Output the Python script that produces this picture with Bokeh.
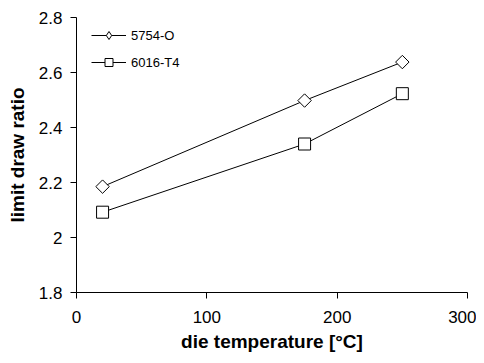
from bokeh.plotting import figure
from bokeh.models import FixedTicker, CustomJSTickFormatter, Range1d, Legend, LegendItem
from bokeh.embed import file_html
from bokeh.resources import INLINE

temps = [20, 175, 250]
ldr_5754 = [2.185, 2.498, 2.638]
ldr_6016 = [2.092, 2.340, 2.523]
x_ticks = [0, 100, 200, 300]
y_ticks = [1.8, 2.0, 2.2, 2.4, 2.6, 2.8]
series_names = ["5754-O", "6016-T4"]

FONT = "Liberation Sans"

p = figure(width=476, height=363, output_backend="svg", toolbar_location=None,
           x_range=Range1d(0, 300), y_range=Range1d(1.8, 2.8),
           min_border_left=76, min_border_top=17, min_border_right=9, min_border_bottom=71)
p.outline_line_color = None
p.xgrid.visible = False
p.ygrid.visible = False

p.line(temps, ldr_5754, line_color="black", line_width=1)
p.scatter(temps, ldr_5754, marker="square", angle=0.7853981634, size=9.5,
          fill_color="white", line_color="black", line_width=1)
p.line(temps, ldr_6016, line_color="black", line_width=1)
p.scatter(temps, ldr_6016, marker="square", size=12, fill_color="white", line_color="black", line_width=1)

# legend-only renderers (smaller markers as in the reference legend); NaN data draws nothing
nan = [float("nan")]
lg1 = p.line(nan, nan, line_color="black", line_width=1)
lg1m = p.scatter(nan, nan, marker="diamond", size=11, fill_color="white", line_color="black", line_width=1)
lg2 = p.line(nan, nan, line_color="black", line_width=1)
lg2m = p.scatter(nan, nan, marker="square", size=9, fill_color="white", line_color="black", line_width=1)

for ax in (p.xaxis[0], p.yaxis[0]):
    ax.major_label_text_font = FONT
    ax.major_label_text_font_size = "17px"
    ax.major_label_text_color = "black"
    ax.axis_label_text_font = FONT
    ax.axis_label_text_font_style = "bold"
    ax.axis_label_text_font_size = "19px"
    ax.axis_label_text_color = "black"
    ax.axis_line_color = "black"
    ax.major_tick_line_color = "black"
    ax.major_tick_out = 6
    ax.major_tick_in = 0
    ax.minor_tick_line_color = None

p.xaxis[0].major_label_standoff = 12
p.yaxis[0].major_label_standoff = 8
p.xaxis[0].ticker = FixedTicker(ticks=x_ticks)
p.yaxis[0].ticker = FixedTicker(ticks=y_ticks)
p.yaxis[0].formatter = CustomJSTickFormatter(code="return tick.toFixed(1).replace(/\\.0$/, '');")
p.xaxis[0].axis_label = "die temperature [°C]"
p.yaxis[0].axis_label = "limit draw ratio"
p.xaxis[0].axis_label_standoff = 5
p.yaxis[0].axis_label_standoff = 8

legend = Legend(items=[LegendItem(label=series_names[0], renderers=[lg1, lg1m]),
                       LegendItem(label=series_names[1], renderers=[lg2, lg2m])],
                location=(15, 220))
legend.background_fill_alpha = 0
legend.border_line_color = None
legend.glyph_width = 35
legend.glyph_height = 20
legend.label_height = 20
legend.spacing = 7
legend.padding = 4
legend.margin = 0
legend.label_standoff = 5
legend.label_text_font = FONT
legend.label_text_font_size = "13px"
legend.label_text_color = "black"
p.add_layout(legend)

open("out.html", "w").write(file_html(p, INLINE))
